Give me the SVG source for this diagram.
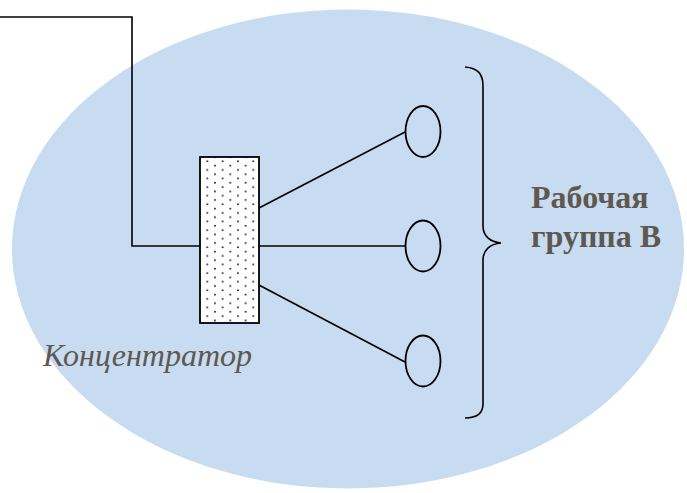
<svg xmlns="http://www.w3.org/2000/svg" width="687" height="493" viewBox="0 0 687 493">
<defs>
<pattern id="dots" patternUnits="userSpaceOnUse" x="203.47" y="159.15" width="15.33" height="8.6">
<circle cx="3.83" cy="2.15" r="0.95" fill="#222"/>
<circle cx="11.5" cy="6.45" r="0.95" fill="#222"/>
</pattern>
<style>
.ln{fill:none;stroke:#000;stroke-width:1.6}
.node{fill:none;stroke:#000;stroke-width:1.8}
.lbl{font-family:"Liberation Serif","Times New Roman",serif;fill:#5f5750;font-size:32px}
</style>
</defs>
<g id="area">
<ellipse cx="348" cy="249" rx="336" ry="239.5" fill="#c7dcf0"/>
</g>
<g id="connectors">
<polyline class="ln" points="0,17 132,17 132,246 200,246" stroke-width="1.8"/>
<line class="ln" x1="259" y1="208" x2="405" y2="132"/>
<line class="ln" x1="259" y1="246" x2="405" y2="246"/>
<line class="ln" x1="257" y1="284" x2="405" y2="362"/>
</g>
<g id="concentrator">
<rect x="200" y="157" width="59" height="166" fill="#fff"/>
<rect x="200" y="157" width="59" height="166" fill="url(#dots)" stroke="#000" stroke-width="1.8"/>
</g>
<g id="node1"><ellipse class="node" cx="423" cy="131.5" rx="17.5" ry="25.5"/></g>
<g id="node2"><ellipse class="node" cx="423" cy="246" rx="17.5" ry="25.5"/></g>
<g id="node3"><ellipse class="node" cx="423" cy="361" rx="17.5" ry="25.5"/></g>
<g id="brace">
<path class="ln" stroke-width="2" d="M465,67 C478,68 483,74 483,86 L483,226 C483,236 490,242 501,243 C490,244 483,250 483,260 L483,404 C483,413 478,418 465,418"/>
</g>
<g id="labels">
<text class="lbl" x="43" y="366" font-style="italic">Концентратор</text>
<text class="lbl" x="531" y="208" font-weight="bold">Рабочая</text>
<text class="lbl" x="531" y="247" font-weight="bold">группа В</text>
</g>
</svg>
